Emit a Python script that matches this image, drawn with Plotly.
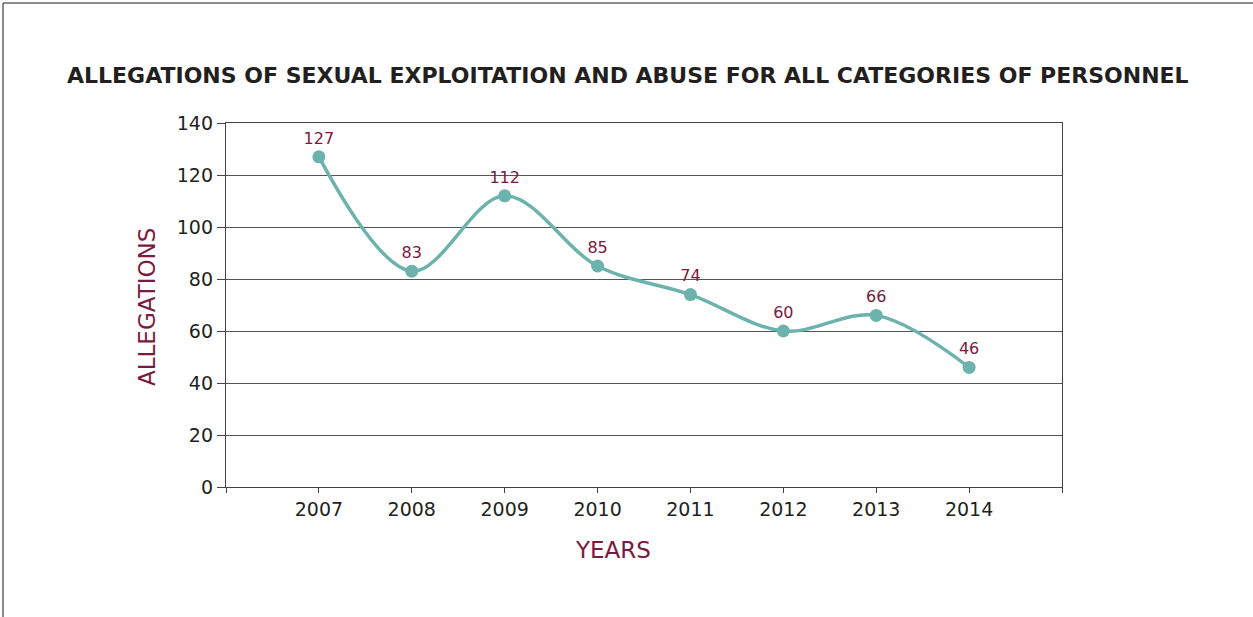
import plotly.graph_objects as go

years = [2007, 2008, 2009, 2010, 2011, 2012, 2013, 2014]
allegations = [127, 83, 112, 85, 74, 60, 66, 46]
tick_vals_x = [2006, 2007, 2008, 2009, 2010, 2011, 2012, 2013, 2014, 2015]
tick_text_x = ["", "2007", "2008", "2009", "2010", "2011", "2012", "2013", "2014", ""]
tick_vals_y = [0, 20, 40, 60, 80, 100, 120, 140]

TEAL = "#6cb2ad"
MAROON = "#7b1a40"
DARK = "#231f20"
FONT = "DejaVu Sans"

W, H = 1253, 617
# target plot area in screenshot pixels: x 226..1062, y 123..487
L, T = 226, 123
R = W - 1062
B = H - 487
pw, ph = W - L - R, H - T - B


def px(xs):
    return (xs - L) / pw


def py(ys):
    return 1 - (ys - T) / ph


fig = go.Figure()
fig.add_trace(go.Scatter(
    x=years, y=allegations,
    mode="lines+markers+text",
    line=dict(color=TEAL, width=3.5, shape="spline", smoothing=1.0),
    marker=dict(color=TEAL, size=13),
    text=[str(v) for v in allegations],
    textposition="top center",
    textfont=dict(family=FONT, size=16, color=MAROON),
    cliponaxis=False,
    showlegend=False,
))

fig.update_layout(
    width=W, height=H,
    margin=dict(l=L, r=R, t=T, b=B),
    paper_bgcolor="white", plot_bgcolor="white",
    font=dict(family=FONT, color=DARK),
    xaxis=dict(
        range=[2006, 2015], tickmode="array", tickvals=tick_vals_x, ticktext=tick_text_x,
        showgrid=False, zeroline=False,
        showline=True, linecolor="#444", linewidth=1.3, mirror=True,
        ticks="outside", ticklen=5, tickcolor="#444",
        tickfont=dict(family=FONT, size=19, color=DARK),
    ),
    yaxis=dict(
        range=[0, 140], tickmode="array", tickvals=tick_vals_y,
        showgrid=True, gridcolor="#555", gridwidth=1, zeroline=False,
        showline=True, linecolor="#444", linewidth=1.3, mirror=True,
        ticks="outside", ticklen=8, tickcolor="#444",
        tickfont=dict(family=FONT, size=19, color=DARK),
    ),
    annotations=[
        dict(text="ALLEGATIONS OF SEXUAL EXPLOITATION AND ABUSE FOR ALL CATEGORIES OF PERSONNEL",
             xref="paper", yref="paper", x=px(628), y=py(75),
             xanchor="center", yanchor="middle", showarrow=False,
             font=dict(family=FONT, size=22, color=DARK, weight="bold")),
        dict(text="ALLEGATIONS", xref="paper", yref="paper",
             x=px(147), y=py(307), textangle=-90,
             xanchor="center", yanchor="middle", showarrow=False,
             font=dict(family=FONT, size=23, color=MAROON)),
        dict(text="YEARS", xref="paper", yref="paper",
             x=px(613), y=py(550),
             xanchor="center", yanchor="middle", showarrow=False,
             font=dict(family=FONT, size=23, color=MAROON)),
    ],
    shapes=[
        dict(type="line", xref="paper", yref="paper",
             x0=px(3), x1=px(1260), y0=py(3), y1=py(3),
             line=dict(color="#666", width=1.5)),
        dict(type="line", xref="paper", yref="paper",
             x0=px(3), x1=px(3), y0=py(3), y1=py(625),
             line=dict(color="#666", width=1.5)),
    ],
)

fig.write_html("out.html", config={"displayModeBar": False},
               post_script="document.body.style.margin='0';")
